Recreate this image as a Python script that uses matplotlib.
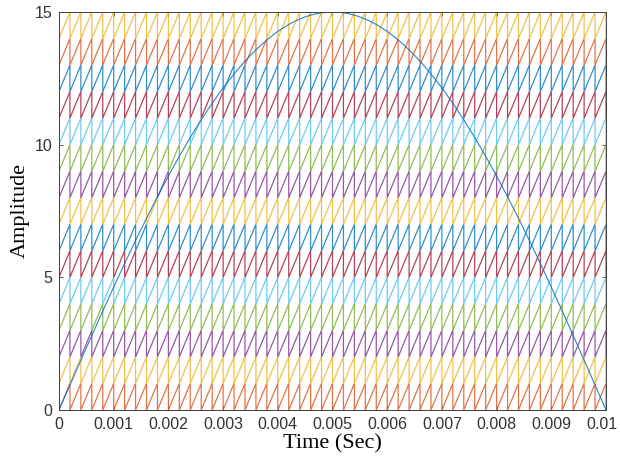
import numpy as np
import matplotlib
matplotlib.use("Agg")
import matplotlib.pyplot as plt
import matplotlib.transforms as mtrans

# ---- data ----
t_end = 0.01            # seconds
f_ref = 50              # Hz, reference sine
amp_ref = 15            # reference amplitude
f_carrier = 5000        # Hz, sawtooth carriers
levels = list(range(15))  # carrier band lower edges 0..14
band_colors = ["#D95319", "#EDB120", "#7E2F8E", "#77AC30", "#4DBEEE", "#A2142F", "#0072BD",
               "#EDB120", "#7E2F8E", "#77AC30", "#4DBEEE", "#A2142F", "#0072BD", "#D95319", "#EDB120"]
ref_color = "#0072BD"
xticks = [0, 0.001, 0.002, 0.003, 0.004, 0.005, 0.006, 0.007, 0.008, 0.009, 0.01]
xticklabels = ["0", "0.001", "0.002", "0.003", "0.004", "0.005", "0.006", "0.007", "0.008", "0.009", "0.01"]
yticks = [0, 5, 10, 15]

fig = plt.figure(figsize=(6.2, 4.59), dpi=100)
ax = fig.add_axes([59/620, 1 - 410/459, (606-59)/620, (410-12)/459])

T = 1.0 / f_carrier
n_per = int(round(t_end / T))
for lvl, c in zip(levels, band_colors):
    k = np.arange(n_per)
    xs = np.empty(3 * n_per)
    ys = np.empty(3 * n_per)
    xs[0::3] = k * T
    xs[1::3] = (k + 1) * T
    xs[2::3] = (k + 1) * T
    ys[0::3] = lvl
    ys[1::3] = lvl + 1
    ys[2::3] = lvl
    ax.plot(xs, ys, color=c, lw=0.9, alpha=0.8, solid_joinstyle="miter")

t = np.linspace(0, t_end, 2001)
ax.plot(t, amp_ref * np.sin(2 * np.pi * f_ref * t), color=ref_color, lw=0.8, alpha=0.85)

ax.set_xlim(0, t_end)
ax.set_ylim(0, 15)
ax.set_xticks(xticks)
ax.set_xticklabels(xticklabels)
ax.set_yticks(yticks)
ax.tick_params(direction="in", length=3, width=0.6, colors="#404040", labelsize=11.5,
               top=True, right=True, pad=5)
for lab in ax.get_xticklabels() + ax.get_yticklabels():
    lab.set_family(["Liberation Sans", "DejaVu Sans"])
    lab.set_color("#333333")
# keep the last x tick label inside the canvas
last = ax.get_xticklabels()[-1]
last.set_transform(last.get_transform() + mtrans.ScaledTranslation(-4/100, 0, fig.dpi_scale_trans))
for s in ax.spines.values():
    s.set_color("#404040")
    s.set_linewidth(0.7)

ax.set_xlabel("Time (Sec)", family=["Liberation Serif", "DejaVu Serif"], fontsize=16, labelpad=2)
ax.set_ylabel("Amplitude", family=["Liberation Serif", "DejaVu Serif"], fontsize=16, labelpad=3)

fig.savefig("out.png", dpi=100)
